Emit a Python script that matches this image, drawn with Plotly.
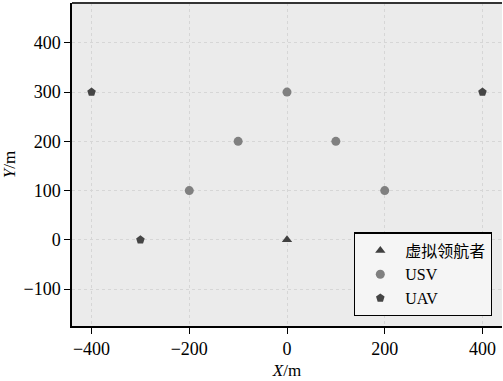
import plotly.graph_objects as go

leader_x = [0]
leader_y = [0]
usv_x = [0, -100, 100, -200, 200]
usv_y = [300, 200, 200, 100, 100]
uav_x = [-400, 400, -300, 300]
uav_y = [300, 300, 0, 0]
x_ticks = [-400, -200, 0, 200, 400]
y_ticks = [-100, 0, 100, 200, 300, 400]

FONT = "Liberation Serif, Noto Sans CJK SC, serif"

fig = go.Figure()
fig.add_trace(go.Scatter(x=leader_x, y=leader_y, mode="markers", name="虚拟领航者",
                         marker=dict(symbol="triangle-up", size=9, color="#404040")))
fig.add_trace(go.Scatter(x=usv_x, y=usv_y, mode="markers", name="USV",
                         marker=dict(symbol="circle", size=9, color="#808080")))
fig.add_trace(go.Scatter(x=uav_x, y=uav_y, mode="markers", name="UAV",
                         marker=dict(symbol="pentagon", size=9, color="#454545")))

axis_common = dict(showline=True, linecolor="black", linewidth=1.5, ticks="outside",
                   ticklen=6, tickcolor="black", tickwidth=1.2,
                   showgrid=True, gridcolor="#d6d6d6", griddash="dot", gridwidth=1,
                   zeroline=False, tickfont=dict(family=FONT, size=18, color="black"))

fig.update_xaxes(range=[-440, 440], tickvals=x_ticks,
                 ticktext=[("−" + str(-v)) if v < 0 else str(v) for v in x_ticks],
                 title=dict(text="<i>X</i>/m", font=dict(family=FONT, size=17, color="black"), standoff=6),
                 **axis_common)
fig.update_yaxes(range=[-175, 481], tickvals=y_ticks,
                 ticktext=[("−" + str(-v)) if v < 0 else str(v) for v in y_ticks],
                 title=dict(text="<i>Y</i>/m", font=dict(family=FONT, size=17, color="black"), standoff=4),
                 **axis_common)

fig.add_shape(type="line", xref="paper", yref="paper", x0=0, x1=1, y0=1, y1=1,
              line=dict(color="#333333", width=2))

fig.update_layout(
    width=503, height=381,
    margin=dict(l=72, r=1, t=3, b=55),
    paper_bgcolor="white", plot_bgcolor="#ebebeb",
    font=dict(family=FONT, size=18, color="black"),
    legend=dict(x=0.977, y=0.03, xanchor="right", yanchor="bottom",
                bgcolor="#f5f5f5", bordercolor="black", borderwidth=1.2,
                font=dict(family=FONT, size=16, color="black"),
                itemwidth=40, tracegroupgap=0),
    showlegend=True,
)

fig.write_html("out.html")
